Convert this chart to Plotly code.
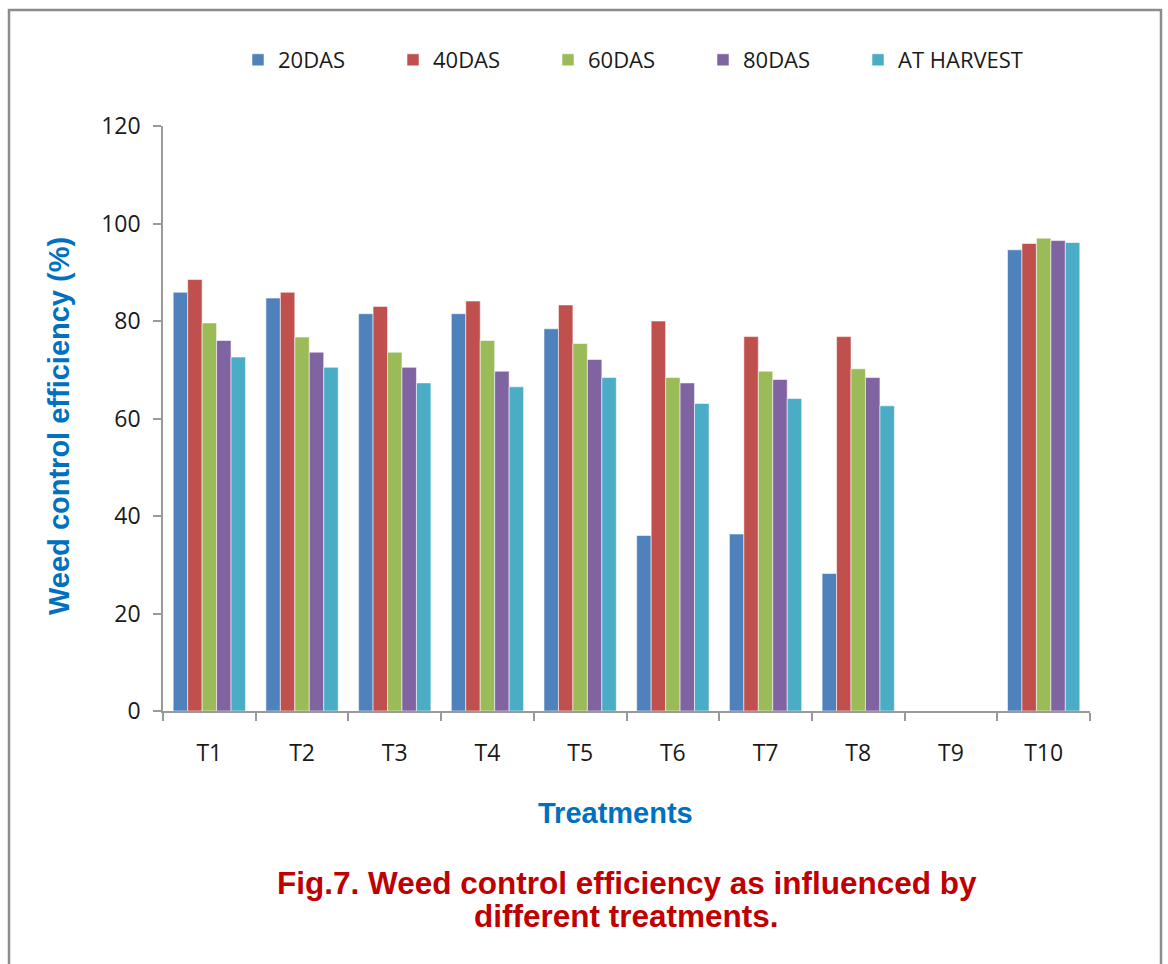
import plotly.graph_objects as go

# Treatments and weed control efficiency (%) at each observation stage
treatments = ["T1", "T2", "T3", "T4", "T5", "T6", "T7", "T8", "T9", "T10"]
das20 = [85.9, 84.7, 81.5, 81.5, 78.4, 36.0, 36.3, 28.2, 0, 94.6]
das40 = [88.5, 85.9, 83.0, 84.1, 83.3, 80.0, 76.8, 76.8, 0, 95.9]
das60 = [79.6, 76.7, 73.6, 76.0, 75.4, 68.4, 69.7, 70.2, 0, 97.0]
das80 = [76.0, 73.6, 70.5, 69.7, 72.1, 67.3, 68.0, 68.4, 0, 96.5]
harvest = [72.6, 70.5, 67.3, 66.5, 68.4, 63.1, 64.1, 62.6, 0, 96.1]

series_names = ["20DAS", "40DAS", "60DAS", "80DAS", "AT HARVEST"]
series_values = [das20, das40, das60, das80, harvest]
series_colors = ["#4F81BD", "#C0504D", "#9BBB59", "#8064A2", "#4BACC6"]

W, H = 1168, 964
L, R, T, B = 163, 78, 126, 253
PW, PH = W - L - R, H - T - B


def px_x(x):
    return (x - L) / PW


def px_y(y):
    return (H - B - y) / PH


fig = go.Figure()
for i, (name, vals, col) in enumerate(zip(series_names, series_values, series_colors)):
    # the last entry sits in its own legend box so its longer label isn't clipped
    fig.add_trace(go.Bar(
        x=treatments, y=vals, name=name,
        legend="legend2" if i == len(series_names) - 1 else "legend",
        marker=dict(color=col, line=dict(color="rgba(255,255,255,0.55)", width=1)),
    ))

axis_col = "#9a9a9a"
tick_font = dict(family="Open Sans, DejaVu Sans, sans-serif", size=23, color="#1a1a1a")
legend_font = dict(family="Open Sans, sans-serif", size=22, color="#1a1a1a")
entry_pitch = 155

fig.update_layout(
    width=W, height=H,
    margin=dict(l=L, r=R, t=T, b=B, pad=0),
    paper_bgcolor="white", plot_bgcolor="white",
    barmode="group", bargap=0.22, bargroupgap=0,
    showlegend=True,
    legend=dict(
        orientation="h", x=px_x(238), xanchor="left", y=px_y(60), yanchor="middle",
        font=legend_font, entrywidth=110, entrywidthmode="pixels",
        bgcolor="rgba(0,0,0,0)", traceorder="normal",
    ),
    legend2=dict(
        orientation="h", x=px_x(238 + 4 * entry_pitch), xanchor="left", y=px_y(60), yanchor="middle",
        font=legend_font, bgcolor="rgba(0,0,0,0)",
    ),
    xaxis=dict(
        type="category", showgrid=False, zeroline=False,
        showline=True, linecolor=axis_col, linewidth=1.5,
        ticks="outside", ticklen=8, tickcolor=axis_col, tickwidth=1.5,
        tickson="boundaries", tickfont=tick_font, ticklabelstandoff=21,
    ),
    yaxis=dict(
        range=[0, 120], dtick=20, showgrid=False, zeroline=False,
        showline=True, linecolor=axis_col, linewidth=1.5,
        ticks="outside", ticklen=8, tickcolor=axis_col, tickwidth=1.5,
        tickfont=tick_font, ticklabelstandoff=8,
    ),
    shapes=[dict(
        type="rect", xref="paper", yref="paper",
        x0=px_x(9), x1=px_x(1161), y0=px_y(990), y1=px_y(10),
        line=dict(color="#8c8c8c", width=2.5), fillcolor="rgba(0,0,0,0)", layer="below",
    )],
)

title_font = dict(family="Liberation Sans, Arial, sans-serif", size=29, color="#0070C0")
caption_font = dict(family="Liberation Sans, Arial, sans-serif", size=31.5, color="#C00000")

fig.add_annotation(
    text="<b>Weed control efficiency (%)</b>", textangle=-90,
    xref="paper", yref="paper", x=px_x(59), y=px_y(426),
    xanchor="center", yanchor="middle", showarrow=False, font=title_font,
)
fig.add_annotation(
    text="<b>Treatments</b>",
    xref="paper", yref="paper", x=px_x(615), y=px_y(813),
    xanchor="center", yanchor="middle", showarrow=False, font=title_font,
)
fig.add_annotation(
    text="<b>Fig.7. Weed control efficiency as influenced by</b>",
    xref="paper", yref="paper", x=px_x(627), y=px_y(883),
    xanchor="center", yanchor="middle", showarrow=False, font=caption_font,
)
fig.add_annotation(
    text="<b>different treatments.</b>",
    xref="paper", yref="paper", x=px_x(626), y=px_y(916),
    xanchor="center", yanchor="middle", showarrow=False, font=caption_font,
)

fig.write_html("out.html")
